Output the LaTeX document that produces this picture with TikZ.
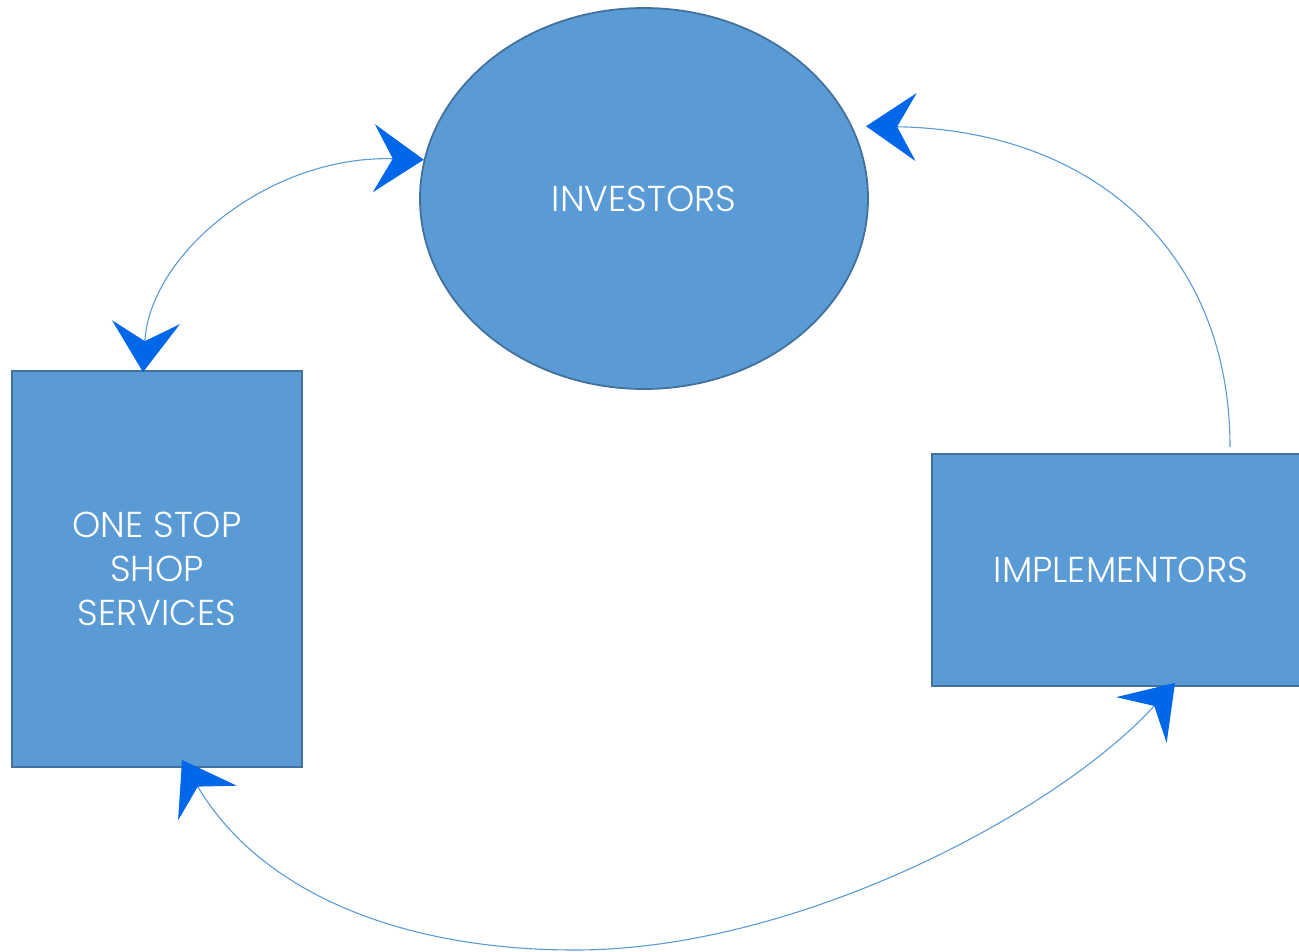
\documentclass[tikz,border=0pt]{standalone}
\usepackage{fontspec}
\setmainfont{Poppins Light}
\usetikzlibrary{arrows.meta,shapes.geometric}
\definecolor{boxfill}{HTML}{5B9BD5}
\definecolor{boxline}{HTML}{41719C}
\definecolor{tipblue}{HTML}{0068E8}
\definecolor{linkblue}{HTML}{5B9BD5}
\tikzset{
  shapebox/.style={draw=boxline, line width=1.8pt, fill=boxfill, text=white, inner sep=0pt, font=\fontsize{36}{44}\selectfont},
  conn/.style={draw=linkblue, line width=1.1pt},
  bigtip/.tip={Stealth[length=50pt, width=68pt, inset=19pt, color=tipblue]}
}
\begin{document}
\begin{tikzpicture}[x=1pt,y=-1pt]
\useasboundingbox (0,0) rectangle (1299,951);
\node[shapebox, ellipse, minimum width=448pt, minimum height=381pt] (inv) at (644,198.5) {INVESTORS};
\node[shapebox, rectangle, minimum width=290pt, minimum height=396pt, align=center] (oss) at (157,569) {ONE STOP\\SHOP\\SERVICES};
\node[shapebox, rectangle, minimum width=378pt, minimum height=232pt] (impl) at (1121,570) {IMPLEMENTORS};
\draw[conn, bigtip-bigtip] ([xshift=-14pt,yshift=-2pt]oss.north) .. controls (150,253) and (270,155) .. (inv.170);
\draw[conn, -bigtip] ([xshift=109pt,yshift=6pt]impl.north) .. controls (1230,250) and (1092,130) .. ([xshift=12pt,yshift=4pt]inv.18);
\draw[conn, bigtip-bigtip] ([xshift=25pt,yshift=8pt]oss.south) .. controls (260,892) and (400,950) .. (575,950) .. controls (800,950) and (1060,810) .. ([xshift=54pt,yshift=4pt]impl.south);
\end{tikzpicture}
\end{document}
